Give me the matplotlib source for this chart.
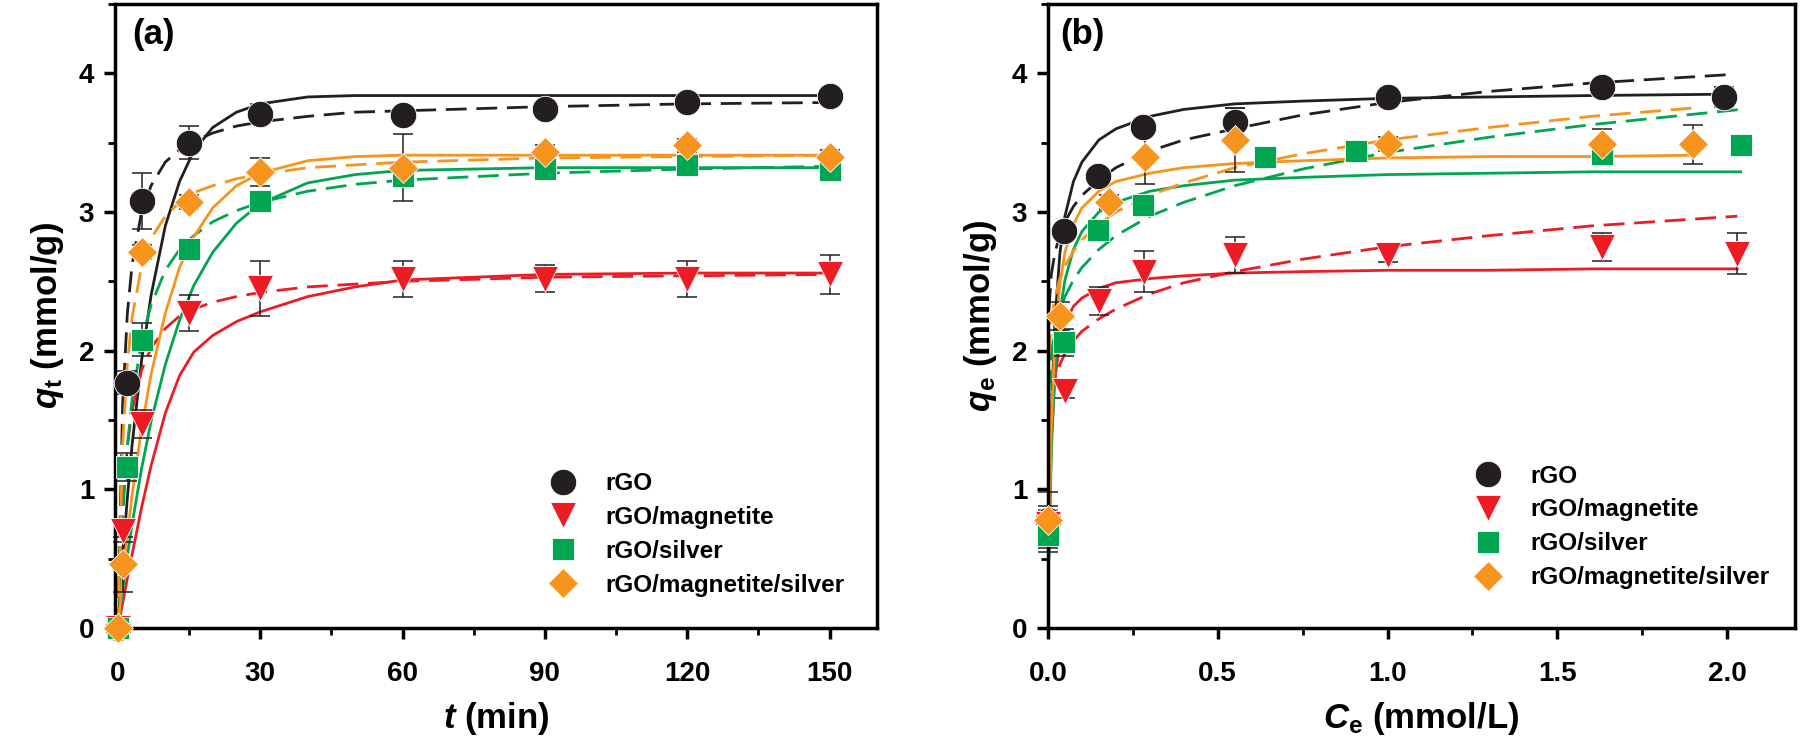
import matplotlib
matplotlib.use('Agg')
import matplotlib.pyplot as plt
from matplotlib.lines import Line2D
from matplotlib.ticker import MultipleLocator, FormatStrFormatter

plt.rcParams['font.family'] = ['Liberation Sans', 'DejaVu Sans']
plt.rcParams['font.weight'] = 'bold'
plt.rcParams['mathtext.fontset'] = 'custom'
plt.rcParams['mathtext.it'] = 'Liberation Sans:italic:bold'
plt.rcParams['mathtext.rm'] = 'Liberation Sans:bold'
plt.rcParams['mathtext.bf'] = 'Liberation Sans:bold'

# series names and colours
labels = ['rGO', 'rGO/magnetite', 'rGO/silver', 'rGO/magnetite/silver']
colors = ['#231F20', '#ED1C24', '#00A651', '#F7941D']
markers = ['o', 'v', 's', 'D']
msizes = [19, 19, 16.5, 15.5]

# ---- (a) kinetics, measured points ----
t_rgo = [0, 2, 5, 15, 30, 60, 90, 120, 150]
q_rgo = [0, 1.77, 3.08, 3.50, 3.71, 3.70, 3.74, 3.79, 3.84]
e_rgo = [0, 0.08, 0.2, 0.12, 0.07, 0.04, 0.04, 0.04, 0.04]

t_mag = [0, 1, 5, 15, 30, 60, 90, 120, 150]
q_mag = [0, 0.70, 1.47, 2.27, 2.45, 2.52, 2.52, 2.52, 2.55]
e_mag = [0, 0.08, 0.1, 0.13, 0.2, 0.13, 0.1, 0.13, 0.14]

t_ag = [0, 2, 5, 15, 30, 60, 90, 120, 150]
q_ag = [0, 1.16, 2.08, 2.73, 3.08, 3.26, 3.31, 3.34, 3.30]
e_ag = [0, 0.1, 0.12, 0.05, 0.06, 0.05, 0.06, 0.06, 0.05]

t_magag = [0, 1, 5, 15, 30, 60, 90, 120, 150]
q_magag = [0, 0.46, 2.71, 3.07, 3.29, 3.32, 3.43, 3.48, 3.40]
e_magag = [0, 0.2, 0.05, 0.05, 0.1, 0.24, 0.05, 0.05, 0.05]

# ---- (a) fitted curves (solid / dashed) ----
t_fit = [0, 1, 2, 3, 5, 7, 10, 13, 16, 20, 25, 30, 40, 50, 60, 90, 120, 150]
fit_rgo_solid = [0, 0.50, 0.94, 1.32, 1.93, 2.40, 2.90, 3.22, 3.44, 3.61, 3.72, 3.78, 3.83, 3.84, 3.84, 3.84, 3.84, 3.84]
fit_rgo_dash = [0, 1.61, 2.27, 2.62, 3.00, 3.19, 3.36, 3.45, 3.51, 3.57, 3.62, 3.65, 3.69, 3.72, 3.73, 3.76, 3.78, 3.79]
fit_mag_solid = [0, 0.18, 0.36, 0.53, 0.87, 1.17, 1.55, 1.82, 1.99, 2.11, 2.21, 2.28, 2.39, 2.46, 2.51, 2.55, 2.56, 2.56]
fit_mag_dash = [0, 0.88, 1.31, 1.57, 1.86, 2.02, 2.16, 2.25, 2.30, 2.35, 2.39, 2.42, 2.46, 2.48, 2.50, 2.53, 2.54, 2.55]
fit_ag_solid = [0, 0.27, 0.52, 0.75, 1.15, 1.49, 1.90, 2.22, 2.47, 2.71, 2.92, 3.06, 3.21, 3.27, 3.30, 3.32, 3.32, 3.32]
fit_ag_dash = [0, 0.81, 1.31, 1.65, 2.07, 2.33, 2.58, 2.73, 2.83, 2.93, 3.01, 3.07, 3.15, 3.20, 3.23, 3.28, 3.31, 3.33]
fit_magag_solid = [0, 0.36, 0.67, 0.96, 1.44, 1.83, 2.27, 2.60, 2.82, 3.03, 3.19, 3.28, 3.37, 3.40, 3.41, 3.41, 3.41, 3.41]
fit_magag_dash = [0, 1.32, 1.91, 2.24, 2.61, 2.81, 2.97, 3.07, 3.14, 3.19, 3.24, 3.27, 3.32, 3.34, 3.36, 3.39, 3.40, 3.41]

# ---- (b) isotherms, measured points ----
c_rgo = [0, 0.047, 0.148, 0.281, 0.551, 1.0, 1.631, 1.992]
qe_rgo = [0.78, 2.86, 3.26, 3.61, 3.65, 3.83, 3.90, 3.83]
ee_rgo = [0.2, 0.05, 0.05, 0.05, 0.1, 0.05, 0.05, 0.07]

c_mag = [0, 0.05, 0.15, 0.283, 0.552, 1.0, 1.631, 2.03]
qe_mag = [0.75, 1.71, 2.36, 2.57, 2.69, 2.69, 2.75, 2.70]
ee_mag = [0.1, 0.05, 0.1, 0.15, 0.13, 0.05, 0.1, 0.15]

c_ag = [0, 0.047, 0.148, 0.281, 0.64, 0.908, 1.631, 2.042]
qe_ag = [0.67, 2.06, 2.87, 3.05, 3.40, 3.44, 3.42, 3.48]
ee_ag = [0.12, 0.1, 0.05, 0.05, 0.05, 0.05, 0.06, 0.05]

c_magag = [0, 0.036, 0.18, 0.286, 0.552, 1.0, 1.631, 1.90]
qe_magag = [0.78, 2.25, 3.07, 3.40, 3.52, 3.49, 3.49, 3.49]
ee_magag = [0.1, 0.1, 0.05, 0.2, 0.23, 0.05, 0.11, 0.14]

# ---- (b) fitted curves ----
c_fit = [0.003, 0.01, 0.02, 0.035, 0.05, 0.075, 0.1, 0.15, 0.2, 0.3, 0.4, 0.55, 0.75, 1.0, 1.3, 1.6]
c_end = [2.0, 2.03, 2.04, 1.90]
iso_rgo_solid = [0.63, 1.53, 2.19, 2.70, 2.97, 3.22, 3.36, 3.52, 3.60, 3.69, 3.74, 3.78, 3.80, 3.82, 3.83, 3.84, 3.85]
iso_rgo_dash = [2.30, 2.55, 2.70, 2.84, 2.93, 3.04, 3.12, 3.23, 3.32, 3.44, 3.52, 3.60, 3.70, 3.79, 3.87, 3.93, 3.99]
iso_mag_solid = [0.65, 1.36, 1.79, 2.06, 2.20, 2.32, 2.38, 2.45, 2.49, 2.52, 2.54, 2.56, 2.57, 2.58, 2.58, 2.59, 2.59]
iso_mag_dash = [1.45, 1.66, 1.79, 1.90, 1.98, 2.07, 2.14, 2.23, 2.30, 2.41, 2.49, 2.57, 2.66, 2.75, 2.83, 2.90, 2.97]
iso_ag_solid = [0.52, 1.27, 1.84, 2.27, 2.51, 2.73, 2.86, 3.00, 3.07, 3.15, 3.19, 3.23, 3.25, 3.27, 3.28, 3.29, 3.29]
iso_ag_dash = [1.71, 1.97, 2.15, 2.29, 2.39, 2.51, 2.60, 2.73, 2.83, 2.97, 3.07, 3.19, 3.31, 3.43, 3.54, 3.63, 3.74]
iso_magag_solid = [0.63, 1.47, 2.06, 2.48, 2.71, 2.91, 3.03, 3.15, 3.22, 3.28, 3.32, 3.35, 3.37, 3.39, 3.40, 3.40, 3.41]
iso_magag_dash = [1.97, 2.22, 2.38, 2.52, 2.61, 2.72, 2.80, 2.91, 3.00, 3.12, 3.21, 3.32, 3.42, 3.52, 3.61, 3.69, 3.75]

DASH = (0, (7.5, 3.5))


def style_axes(ax):
    # thick frame, outward ticks on left/bottom only
    for sp in ax.spines.values():
        sp.set_linewidth(2.5)
    ax.tick_params(which='major', direction='out', length=8, width=2.5,
                   labelsize=20, top=False, right=False)
    ax.tick_params(which='minor', direction='out', length=5, width=2,
                   top=False, right=False)
    ax.tick_params(axis='x', which='major', pad=16)
    ax.tick_params(axis='y', which='major', pad=7)
    ax.set_ylim(0, 4.5)
    ax.yaxis.set_major_locator(MultipleLocator(1))
    ax.yaxis.set_minor_locator(MultipleLocator(0.5))


def draw_panel(ax, points, fits, x_fit_list):
    # fitted curves first, then error bars, then markers on top
    for i, (solid, dash) in enumerate(fits):
        xf = x_fit_list[i]
        ax.plot(xf, solid, color=colors[i], lw=2, zorder=2)
        ax.plot(xf, dash, color=colors[i], lw=2, ls=DASH, zorder=2)
    for i, (x, y, e) in enumerate(points):
        ax.errorbar(x, y, yerr=e, fmt='none', ecolor='#231F20', elinewidth=1.1,
                    capsize=7, capthick=1.1, zorder=2.5, clip_on=False)
    for i, (x, y, e) in enumerate(points):
        ax.plot(x, y, ls='none', marker=markers[i], ms=msizes[i], color=colors[i],
                mec='white', mew=0.6, zorder=3, clip_on=False)


def add_legend(ax, anchor):
    handles = [Line2D([0], [0], ls='none', marker=markers[i], ms=msizes[i],
                      color=colors[i], mec='white', mew=0.6) for i in range(4)]
    ax.legend(handles, labels, loc='center left', bbox_to_anchor=anchor,
              frameon=False, borderpad=0, borderaxespad=0, handlelength=1.15,
              handletextpad=1.2, labelspacing=0.45,
              prop={'size': 17.5, 'weight': 'bold'})


fig = plt.figure(figsize=(18, 7.48), dpi=100)
ax1 = fig.add_axes([0.0639, 0.1604, 0.4233, 0.8342])
ax2 = fig.add_axes([0.5822, 0.1604, 0.4150, 0.8342])

# panel (a)
pts_a = [(t_rgo, q_rgo, e_rgo), (t_mag, q_mag, e_mag),
         (t_ag, q_ag, e_ag), (t_magag, q_magag, e_magag)]
fits_a = [(fit_rgo_solid, fit_rgo_dash), (fit_mag_solid, fit_mag_dash),
          (fit_ag_solid, fit_ag_dash), (fit_magag_solid, fit_magag_dash)]
draw_panel(ax1, pts_a, fits_a, [t_fit] * 4)
style_axes(ax1)
ax1.set_xlim(-0.6, 160)
ax1.set_xticks([0, 30, 60, 90, 120, 150])
ax1.xaxis.set_minor_locator(MultipleLocator(15))
ax1.set_xlabel('$t$ (min)', fontsize=25, fontweight='bold', labelpad=9)
ax1.set_ylabel('$q_\\mathrm{t}$ (mmol/g)', fontsize=25, fontweight='bold', labelpad=9)
ax1.text(0.022, 0.978, '(a)', transform=ax1.transAxes, fontsize=25,
         fontweight='bold', va='top', ha='left')
add_legend(ax1, (0.569, 0.150))

# panel (b)
pts_b = [(c_rgo, qe_rgo, ee_rgo), (c_mag, qe_mag, ee_mag),
         (c_ag, qe_ag, ee_ag), (c_magag, qe_magag, ee_magag)]
fits_b = [(iso_rgo_solid, iso_rgo_dash), (iso_mag_solid, iso_mag_dash),
          (iso_ag_solid, iso_ag_dash), (iso_magag_solid, iso_magag_dash)]
draw_panel(ax2, pts_b, fits_b, [c_fit + [c] for c in c_end])
style_axes(ax2)
ax2.set_xlim(0, 2.2)
ax2.xaxis.set_major_locator(MultipleLocator(0.5))
ax2.xaxis.set_minor_locator(MultipleLocator(0.25))
ax2.xaxis.set_major_formatter(FormatStrFormatter('%.1f'))
ax2.set_xlabel('$C_\\mathrm{e}$ (mmol/L)', fontsize=25, fontweight='bold', labelpad=9)
ax2.set_ylabel('$q_\\mathrm{e}$ (mmol/g)', fontsize=25, fontweight='bold', labelpad=9)
ax2.text(0.017, 0.978, '(b)', transform=ax2.transAxes, fontsize=25,
         fontweight='bold', va='top', ha='left')
add_legend(ax2, (0.570, 0.162))

fig.savefig('out.png', dpi=100)
